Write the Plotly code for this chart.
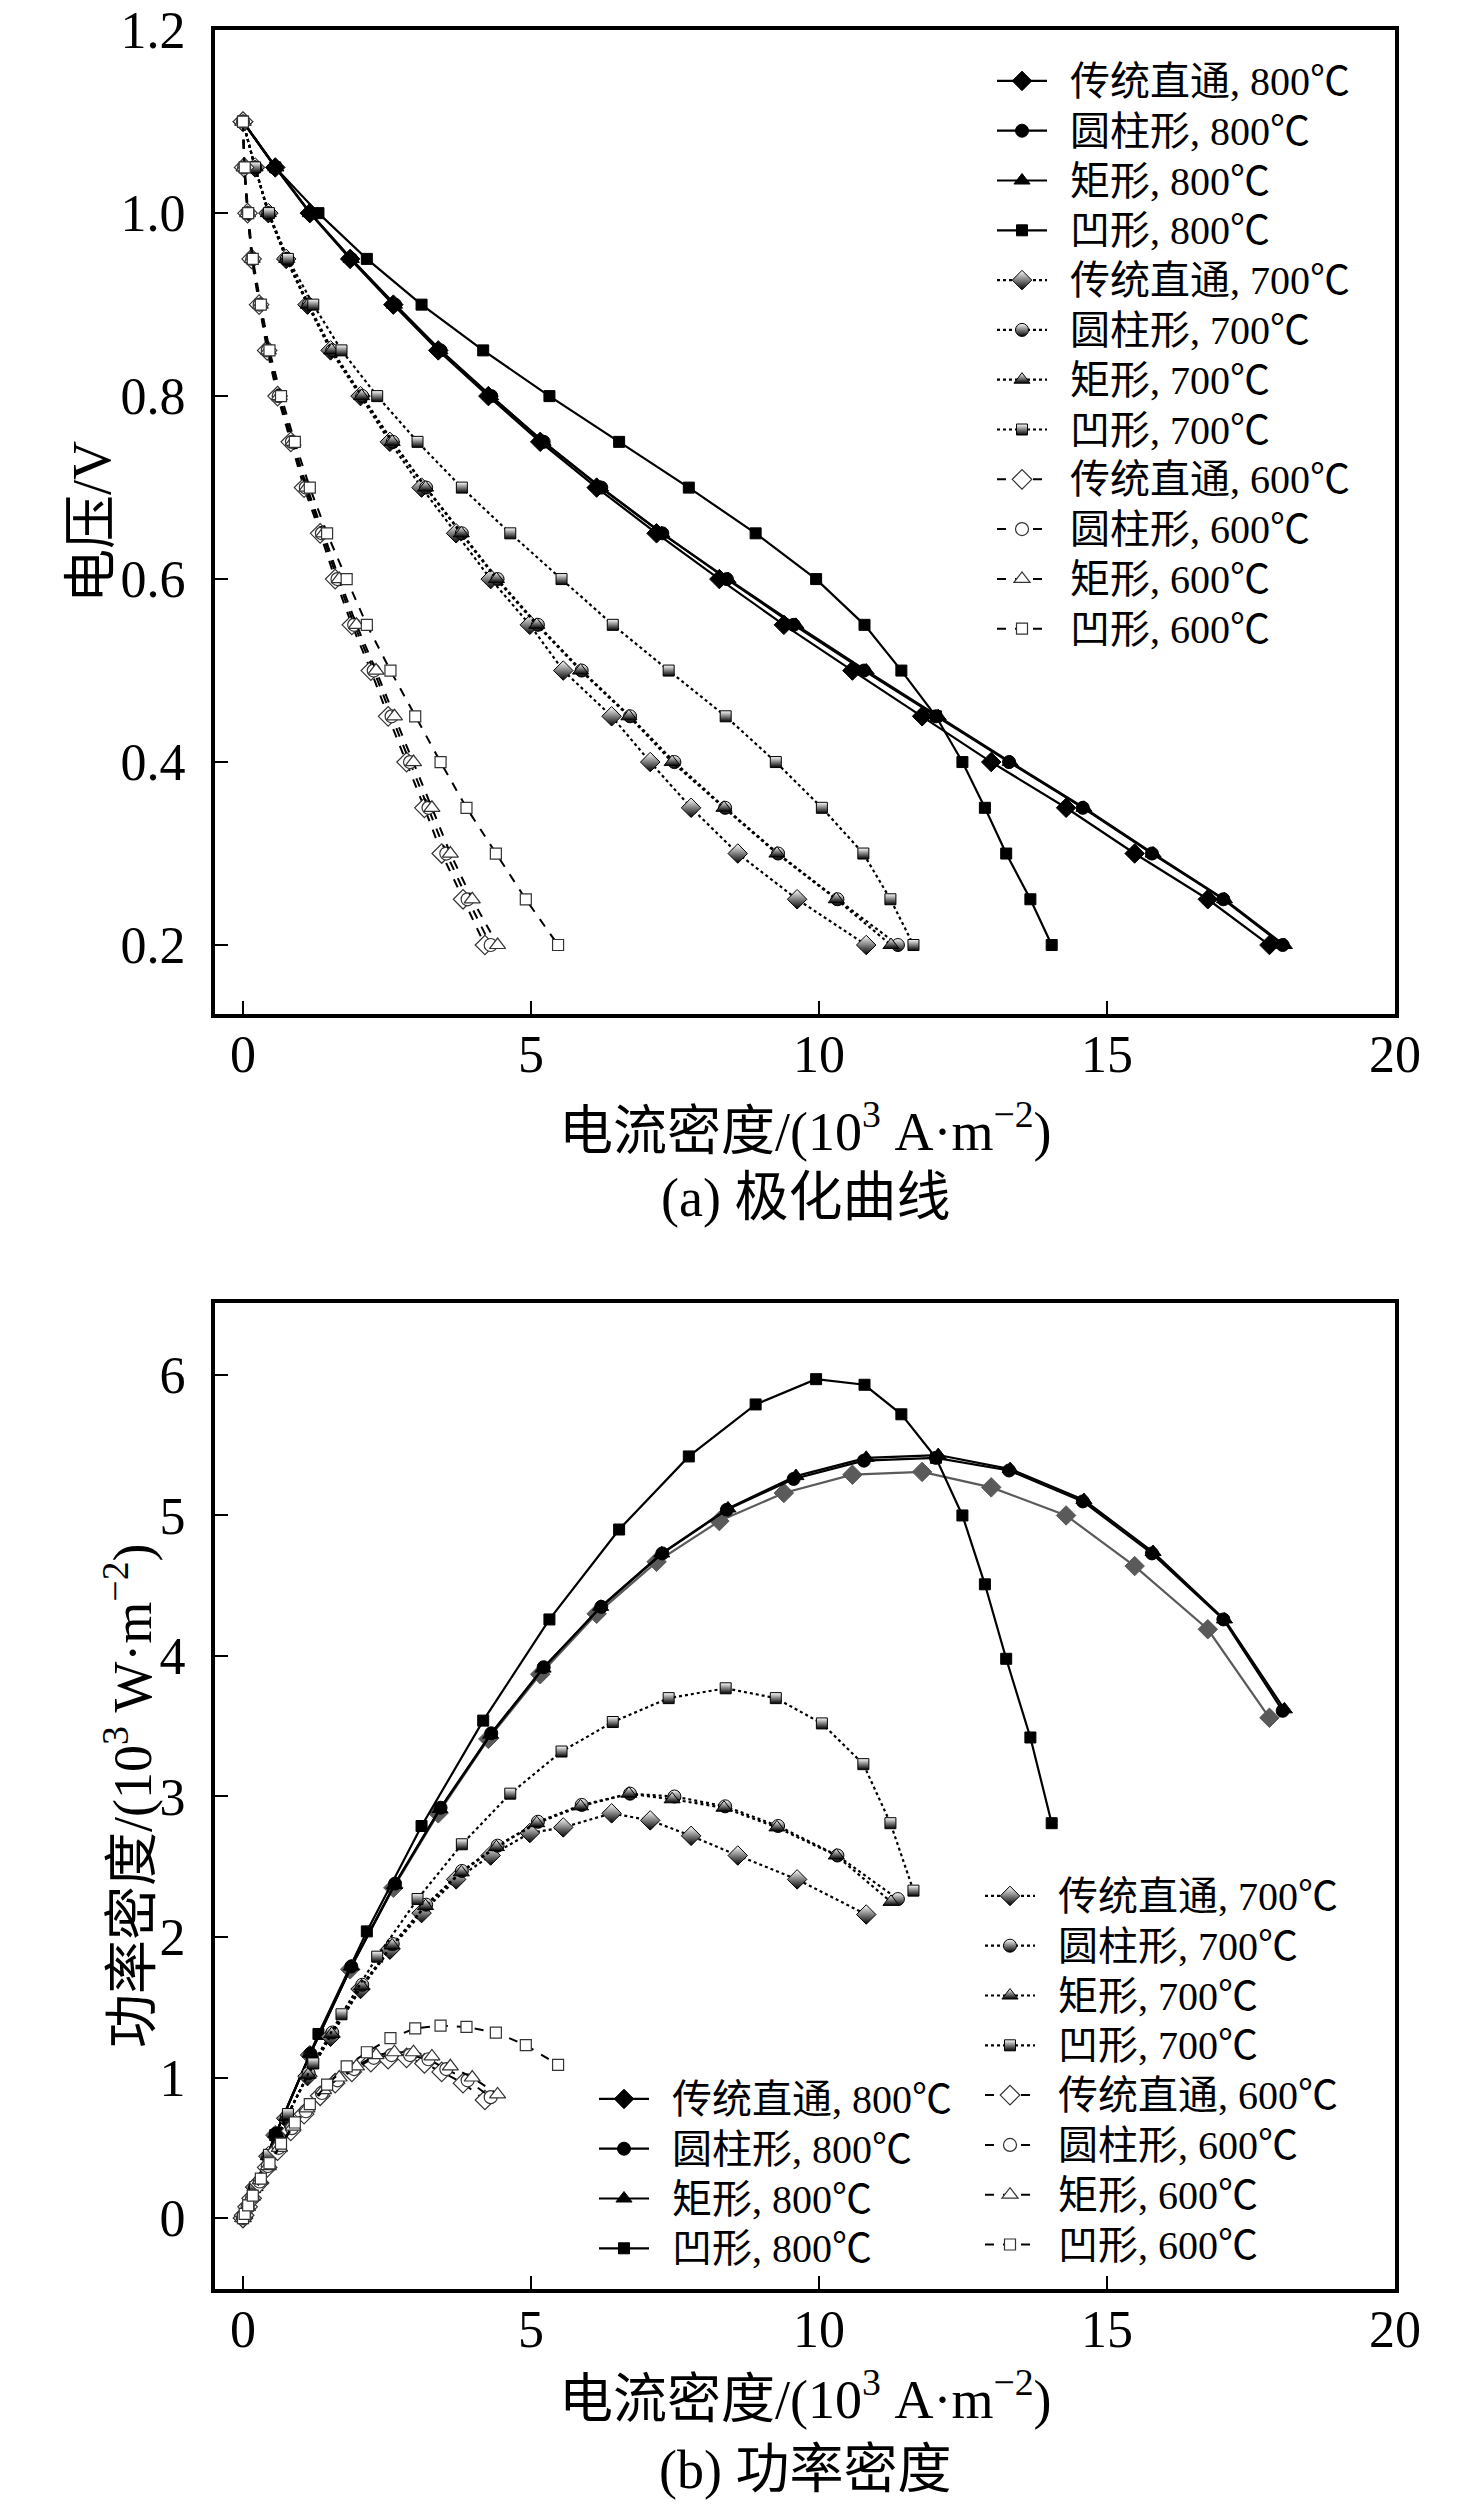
import plotly.graph_objects as go

# ---- data ----
voltage = [1.1, 1.05, 1.0, 0.95, 0.9, 0.85, 0.8, 0.75, 0.7, 0.65,
           0.6, 0.55, 0.5, 0.45, 0.4, 0.35, 0.3, 0.25, 0.2]

# current density (10^3 A/m2)
cur_straight_800 = [0, 0.56, 1.16, 1.86, 2.61, 3.39, 4.26, 5.16, 6.14, 7.18, 8.27, 9.39, 10.58, 11.79, 12.99, 14.29, 15.48, 16.75, 17.82]
cur_cyl_800 = [0, 0.57, 1.17, 1.88, 2.64, 3.43, 4.31, 5.22, 6.22, 7.28, 8.40, 9.56, 10.78, 12.03, 13.30, 14.58, 15.78, 17.02, 18.05]
cur_rect_800 = [0, 0.57, 1.17, 1.88, 2.63, 3.42, 4.30, 5.21, 6.21, 7.27, 8.42, 9.60, 10.82, 12.07, 13.32, 14.60, 15.80, 17.04, 18.08]
cur_concave_800 = [0, 0.56, 1.31, 2.15, 3.10, 4.17, 5.32, 6.53, 7.74, 8.90, 9.95, 10.79, 11.43, 12.03, 12.49, 12.88, 13.25, 13.67, 14.04]

cur_straight_700 = [0, 0.21, 0.44, 0.75, 1.12, 1.52, 2.04, 2.55, 3.10, 3.70, 4.30, 4.98, 5.56, 6.40, 7.07, 7.78, 8.59, 9.62, 10.82]
cur_cyl_700 = [0, 0.21, 0.44, 0.76, 1.14, 1.55, 2.07, 2.60, 3.18, 3.80, 4.42, 5.12, 5.88, 6.72, 7.49, 8.37, 9.29, 10.32, 11.37]
cur_rect_700 = [0, 0.21, 0.44, 0.76, 1.13, 1.54, 2.06, 2.59, 3.17, 3.79, 4.40, 5.10, 5.86, 6.70, 7.45, 8.35, 9.27, 10.30, 11.25]
cur_concave_700 = [0, 0.21, 0.45, 0.78, 1.22, 1.71, 2.33, 3.03, 3.80, 4.64, 5.53, 6.42, 7.39, 8.38, 9.25, 10.05, 10.77, 11.24, 11.64]

cur_straight_600 = [0, 0.02, 0.08, 0.15, 0.28, 0.42, 0.60, 0.83, 1.06, 1.34, 1.60, 1.89, 2.22, 2.52, 2.84, 3.15, 3.45, 3.82, 4.20]
cur_cyl_600 = [0, 0.02, 0.08, 0.16, 0.29, 0.43, 0.62, 0.85, 1.09, 1.37, 1.64, 1.93, 2.27, 2.58, 2.90, 3.22, 3.53, 3.90, 4.30]
cur_rect_600 = [0, 0.02, 0.08, 0.16, 0.30, 0.44, 0.63, 0.87, 1.11, 1.40, 1.67, 1.97, 2.31, 2.63, 2.96, 3.28, 3.60, 3.98, 4.42]
cur_concave_600 = [0, 0.03, 0.09, 0.17, 0.31, 0.46, 0.66, 0.90, 1.16, 1.46, 1.80, 2.15, 2.56, 2.99, 3.43, 3.88, 4.39, 4.91, 5.47]

# power density (10^3 W/m2)
pow_straight_800 = [0, 0.59, 1.16, 1.77, 2.35, 2.88, 3.41, 3.87, 4.30, 4.67, 4.96, 5.16, 5.29, 5.31, 5.20, 5.00, 4.64, 4.19, 3.56]
pow_cyl_800 = [0, 0.60, 1.17, 1.79, 2.38, 2.92, 3.45, 3.92, 4.35, 4.73, 5.04, 5.26, 5.39, 5.41, 5.32, 5.10, 4.73, 4.26, 3.61]
pow_rect_800 = [0, 0.60, 1.17, 1.79, 2.37, 2.91, 3.44, 3.91, 4.35, 4.73, 5.05, 5.28, 5.41, 5.43, 5.33, 5.11, 4.74, 4.26, 3.62]
pow_concave_800 = [0, 0.59, 1.31, 2.04, 2.79, 3.54, 4.26, 4.90, 5.42, 5.79, 5.97, 5.93, 5.72, 5.41, 5.00, 4.51, 3.98, 3.42, 2.81]

pow_straight_700 = [0, 0.22, 0.44, 0.71, 1.01, 1.29, 1.63, 1.91, 2.17, 2.41, 2.58, 2.74, 2.78, 2.88, 2.83, 2.72, 2.58, 2.41, 2.16]
pow_cyl_700 = [0, 0.22, 0.44, 0.72, 1.03, 1.32, 1.66, 1.95, 2.23, 2.47, 2.65, 2.82, 2.94, 3.02, 3.00, 2.93, 2.79, 2.58, 2.27]
pow_rect_700 = [0, 0.22, 0.44, 0.72, 1.02, 1.31, 1.65, 1.94, 2.22, 2.46, 2.64, 2.81, 2.93, 3.02, 2.98, 2.92, 2.78, 2.58, 2.25]
pow_concave_700 = [0, 0.22, 0.45, 0.74, 1.10, 1.45, 1.86, 2.27, 2.66, 3.02, 3.32, 3.53, 3.70, 3.77, 3.70, 3.52, 3.23, 2.81, 2.33]

pow_straight_600 = [0, 0.02, 0.08, 0.14, 0.25, 0.36, 0.48, 0.62, 0.74, 0.87, 0.96, 1.04, 1.11, 1.13, 1.14, 1.10, 1.04, 0.96, 0.84]
pow_cyl_600 = [0, 0.02, 0.08, 0.15, 0.26, 0.37, 0.50, 0.64, 0.76, 0.89, 0.98, 1.06, 1.14, 1.16, 1.16, 1.13, 1.06, 0.98, 0.86]
pow_rect_600 = [0, 0.02, 0.08, 0.15, 0.27, 0.37, 0.50, 0.65, 0.78, 0.91, 1.00, 1.08, 1.16, 1.18, 1.18, 1.15, 1.08, 1.00, 0.88]
pow_concave_600 = [0, 0.03, 0.09, 0.16, 0.28, 0.39, 0.53, 0.68, 0.81, 0.95, 1.08, 1.18, 1.28, 1.35, 1.37, 1.36, 1.32, 1.23, 1.09]

shapes = ["传统直通", "圆柱形", "矩形", "凹形"]
temps = ["800℃", "700℃", "600℃"]
x_ticks = [0, 5, 10, 15, 20]
v_ticks = [0.2, 0.4, 0.6, 0.8, 1.0, 1.2]
v_tick_text = ["0.2", "0.4", "0.6", "0.8", "1.0", "1.2"]
p_ticks = [0, 1, 2, 3, 4, 5, 6]

currents = {
    "800℃": [cur_straight_800, cur_cyl_800, cur_rect_800, cur_concave_800],
    "700℃": [cur_straight_700, cur_cyl_700, cur_rect_700, cur_concave_700],
    "600℃": [cur_straight_600, cur_cyl_600, cur_rect_600, cur_concave_600],
}
powers = {
    "800℃": [pow_straight_800, pow_cyl_800, pow_rect_800, pow_concave_800],
    "700℃": [pow_straight_700, pow_cyl_700, pow_rect_700, pow_concave_700],
    "600℃": [pow_straight_600, pow_cyl_600, pow_rect_600, pow_concave_600],
}

# ---- styling ----
FONT = "Liberation Serif, Noto Sans CJK SC, serif"
symbols = ["diamond", "circle", "triangle-up", "square"]
sizes = [15, 13, 14, 11]
dash_of = {"800℃": "solid", "700℃": "dot", "600℃": "dash"}
lw_of = {"800℃": 2.2, "700℃": 2.2, "600℃": 2.0}


def marker_for(temp, i, color="black"):
    if temp == "800℃":
        return dict(symbol=symbols[i], size=sizes[i], color=color,
                    line=dict(color=color, width=1))
    if temp == "700℃":
        return dict(symbol=symbols[i], size=sizes[i], color="white",
                    gradient=dict(type="vertical", color="black"),
                    line=dict(color="black", width=1))
    return dict(symbol=symbols[i], size=sizes[i], color="white",
                line=dict(color="#333333", width=1.2))


def legend_label(name, temp):
    return f"\u00a0\u00a0<span style='font-size:40px'>{name}, {temp}</span>"


# body margin is removed in the page, so figure pixels = page pixels
W, H = 1476, 2507
PLOT_L, PLOT_R, PLOT_T, PLOT_B = 215, 1395, 30, 2289
ML, MT = PLOT_L, PLOT_T
MR, MB = W - PLOT_R, H - PLOT_B


def px_x(px):
    return (px - PLOT_L) / (PLOT_R - PLOT_L)


def px_y(py):
    return (PLOT_B - py) / (PLOT_B - PLOT_T)


fig = go.Figure()

# (a) polarisation curves
for temp in temps:
    for i, name in enumerate(shapes):
        fig.add_trace(go.Scatter(
            x=currents[temp][i], y=voltage, mode="lines+markers",
            name=legend_label(name, temp),
            line=dict(color="black", width=lw_of[temp], dash=dash_of[temp]),
            marker=marker_for(temp, i),
            xaxis="x", yaxis="y", legend="legend"))

# (b) power density
for temp in temps:
    for i, name in enumerate(shapes):
        grey = temp == "800℃" and i == 0
        col = "#5a5a5a" if grey else "black"
        fig.add_trace(go.Scatter(
            x=currents[temp][i], y=powers[temp][i], mode="lines+markers",
            name=legend_label(name, temp),
            line=dict(color=col, width=lw_of[temp], dash=dash_of[temp]),
            marker=marker_for(temp, i, col) if temp == "800℃" else marker_for(temp, i),
            showlegend=not grey,
            xaxis="x2", yaxis="y2",
            legend="legend2" if temp == "800℃" else "legend3"))
        if grey:
            fig.add_trace(go.Scatter(
                x=[None], y=[None], mode="lines+markers",
                name=legend_label(name, temp),
                line=dict(color="black", width=lw_of[temp]),
                marker=marker_for(temp, i),
                xaxis="x2", yaxis="y2", legend="legend2"))

axis_common = dict(
    showline=True, linewidth=4, linecolor="black", mirror=True,
    ticks="inside", ticklen=13, tickwidth=2, tickcolor="black",
    showgrid=False, zeroline=False, ticklabeloverflow="allow",
    tickfont=dict(family=FONT, size=52, color="black"),
)

top_dom = [px_y(1014), 1]
bot_dom = [0, px_y(1303)]

legend_common = dict(xanchor="left", yanchor="top", bgcolor="rgba(0,0,0,0)",
                     font=dict(family=FONT, size=36), tracegroupgap=0,
                     itemwidth=50)

fig.update_layout(
    width=W, height=H,
    margin=dict(l=ML, r=MR, t=MT, b=MB, autoexpand=False),
    paper_bgcolor="white", plot_bgcolor="white",
    font=dict(family=FONT, color="black", size=40),
    xaxis=dict(domain=[0, 1], anchor="y", range=[-0.486, 20],
               tickvals=x_ticks, ticklabelstandoff=-8, **axis_common),
    yaxis=dict(domain=top_dom, anchor="x", range=[0.1246, 1.2002],
               tickvals=v_ticks, ticktext=v_tick_text,
               ticklabelstandoff=15, **axis_common),
    xaxis2=dict(domain=[0, 1], anchor="y2", range=[-0.486, 20],
                tickvals=x_ticks, ticklabelstandoff=-8, **axis_common),
    yaxis2=dict(domain=bot_dom, anchor="x2", range=[-0.505, 6.512],
                tickvals=p_ticks, ticklabelstandoff=15, **axis_common),
    legend=dict(x=px_x(992), y=px_y(51), **legend_common),
    legend2=dict(x=px_x(594), y=px_y(2069), **legend_common),
    legend3=dict(x=px_x(980), y=px_y(1866), **legend_common),
)

title_font = dict(family=FONT, size=54, color="black")
annots = [
    ("电压/V", 92, 522, -90),
    ("功率密度/(10<sup>3</sup> W·m<sup>−2</sup>)", 128, 1796, -90),
    ("电流密度/(10<sup>3</sup> A·m<sup>−2</sup>)", 805, 1127, 0),
    ("(a) 极化曲线", 805, 1198, 0),
    ("电流密度/(10<sup>3</sup> A·m<sup>−2</sup>)", 805, 2395, 0),
    ("(b) 功率密度", 805, 2470, 0),
]
for text, ax_px, ay_px, ang in annots:
    fig.add_annotation(text=text, x=px_x(ax_px), y=px_y(ay_px),
                       xref="paper", yref="paper", showarrow=False,
                       textangle=ang, font=title_font,
                       xanchor="center", yanchor="middle")

fig.write_html("out.html",
               config={"displayModeBar": False},
               post_script="document.body.style.margin='0';"
                           "document.body.style.overflow='hidden';")
